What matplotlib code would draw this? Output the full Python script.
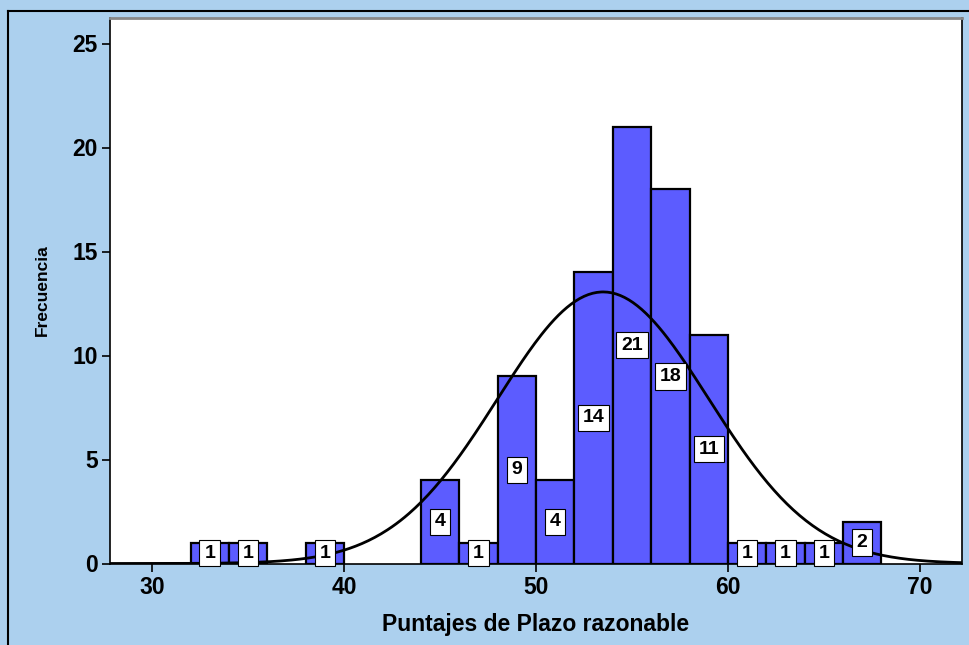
import numpy as np
import matplotlib
matplotlib.use('Agg')
import matplotlib.pyplot as plt
from matplotlib.lines import Line2D

# bins of width 2 (left edges) and their frequencies
bin_left = [32, 34, 38, 44, 46, 48, 50, 52, 54, 56, 58, 60, 62, 64, 66]
counts = [1, 1, 1, 4, 1, 9, 4, 14, 21, 18, 11, 1, 1, 1, 2]
bin_width = 2

# normal curve
curve_mean = 53.5
curve_sd = 5.5

x_ticks = [30, 40, 50, 60, 70]
y_ticks = [0, 5, 10, 15, 20, 25]

plt.rcParams['font.family'] = ['Liberation Sans', 'DejaVu Sans']

fig = plt.figure(figsize=(9.69, 6.45), dpi=100)
fig.patch.set_facecolor('#acd0ee')

# outer frame (only left/top visible in the original)
fig.add_artist(Line2D([8/969, 8/969], [0, 1 - 11/645], color='black', lw=1.5, transform=fig.transFigure))
fig.add_artist(Line2D([8/969, 1], [1 - 11/645, 1 - 11/645], color='black', lw=1.5, transform=fig.transFigure))

ax = fig.add_axes([110/969, 1 - 563.5/645, 852/969, 546/645])
ax.set_facecolor('white')

ax.bar(bin_left, counts, width=bin_width, align='edge', color='#5c5cff',
       edgecolor='black', linewidth=1.6, zorder=2)

n = sum(counts)
xs = np.linspace(27.8, 72.2, 400)
ys = n * bin_width / (curve_sd * np.sqrt(2 * np.pi)) * np.exp(-(xs - curve_mean) ** 2 / (2 * curve_sd ** 2))
ax.plot(xs, ys, color='black', lw=2, zorder=3)

for left, c in zip(bin_left, counts):
    ax.text(left + bin_width / 2, c / 2, str(c), ha='center', va='center',
            fontsize=14, fontweight='bold', zorder=4,
            bbox=dict(boxstyle='square,pad=0.25', facecolor='white', edgecolor='black', linewidth=0.8))

ax.set_xlim(27.8, 72.2)
ax.set_ylim(0, 26.25)
ax.set_xticks(x_ticks)
ax.set_yticks(y_ticks)
ax.tick_params(direction='out', length=6, width=1.2, labelsize=16.5, pad=3)
for lab in ax.get_xticklabels() + ax.get_yticklabels():
    lab.set_fontweight('bold')
for s in ax.spines.values():
    s.set_color('black')
    s.set_linewidth(1.2)
ax.spines['top'].set_color('#888888')
ax.spines['top'].set_linewidth(2)

ax.set_xlabel('Puntajes de Plazo razonable', fontsize=16.5, fontweight='bold', labelpad=10)
ax.set_ylabel('Frecuencia', fontsize=12.5, fontweight='bold', labelpad=16)

fig.savefig('out.png', dpi=100, facecolor=fig.get_facecolor())
